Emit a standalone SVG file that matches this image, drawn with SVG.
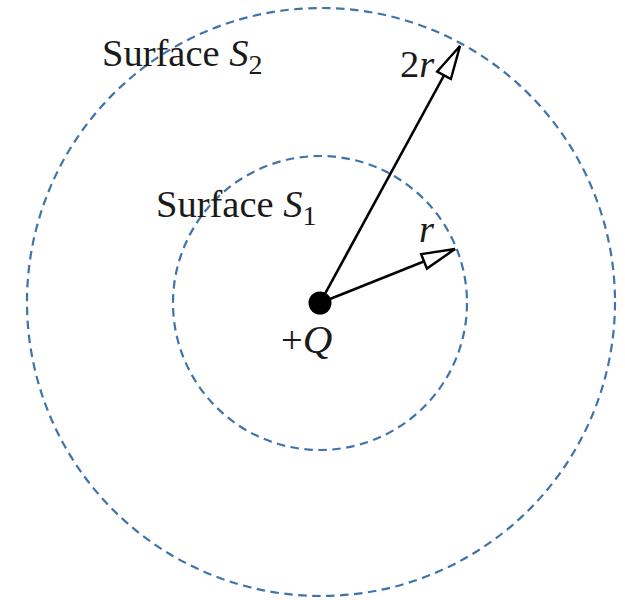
<svg xmlns="http://www.w3.org/2000/svg" width="625" height="600" viewBox="0 0 625 600">
<style>
.surf{fill:none;stroke:#3f74ab;stroke-width:2.2;stroke-dasharray:8.5 5.5}
.vec{stroke:#000;stroke-width:2.6;fill:none}
.t{font-family:"Liberation Serif","Times New Roman",serif;font-size:38.5px;fill:#1a1a1a}
.i{font-style:italic}
.sub{font-size:28px}
</style>
<defs>
<marker id="open" markerUnits="userSpaceOnUse" markerWidth="40" markerHeight="20" viewBox="-2 -9 34 18" refX="30" refY="0" orient="auto">
<path d="M0,-7 L30,0 L0,7 Z" fill="#fff" stroke="#000" stroke-width="2.2" stroke-linejoin="miter"/>
</marker>
</defs>
<rect width="625" height="600" fill="#fff"/>
<g id="surfaceS2">
<circle class="surf" cx="321" cy="302" r="294"/>
<text class="t" x="102" y="66">Surface <tspan class="i">S</tspan><tspan class="sub" dy="8">2</tspan></text>
</g>
<g id="surfaceS1">
<circle class="surf" cx="320" cy="303" r="147"/>
<text class="t" x="156" y="217">Surface <tspan class="i">S</tspan><tspan class="sub" dy="8">1</tspan></text>
</g>
<g id="connectors">
<line class="vec" x1="320" y1="303" x2="460" y2="46" marker-end="url(#open)"/>
<line class="vec" x1="320" y1="303" x2="455" y2="249" marker-end="url(#open)"/>
<text class="t" x="400" y="77">2<tspan class="i">r</tspan></text>
<text class="t i" x="419" y="242">r</text>
</g>
<g id="charge">
<circle cx="320" cy="303" r="11.5" fill="#000"/>
<text class="t" x="281" y="353">+<tspan class="i" font-size="41">Q</tspan></text>
</g>
</svg>
